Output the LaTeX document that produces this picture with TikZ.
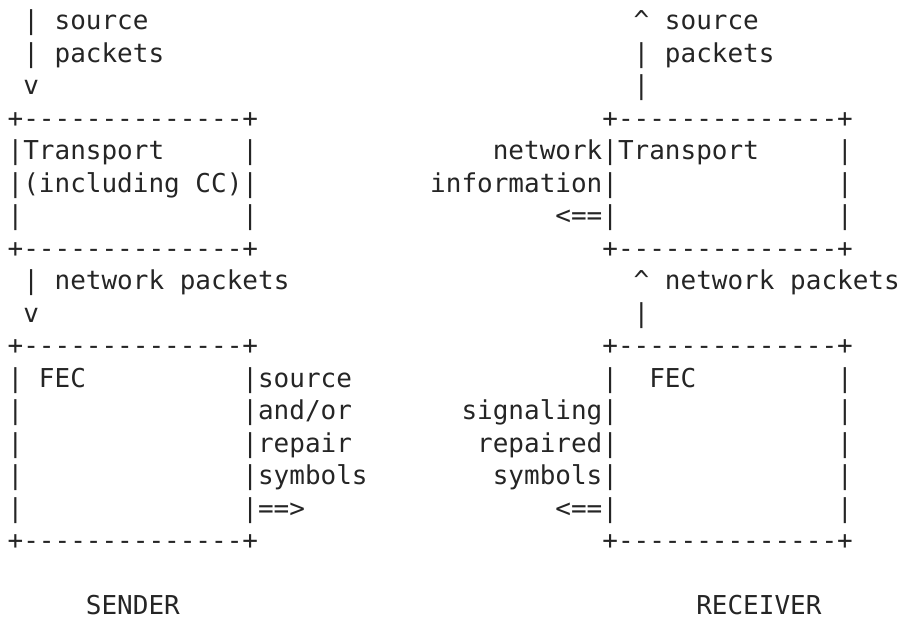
\documentclass[tikz,border=0pt]{standalone}
\usepackage{fontspec}
\setmonofont{DejaVu Sans Mono}[Ligatures=TeXOff]
\definecolor{ink}{HTML}{252525}
\tikzset{
  ascii/.style={anchor=base west, inner sep=0pt, outer sep=0pt, text=ink,
    font=\ttfamily\fontsize{26}{32.5}\selectfont}
}
% \Tx{name}{column}{row}{text}
\newcommand{\Tx}[4]{\node[ascii] (#1) at ({7.675+#2*15.65},{-30-32.5*#3}) {#4};}
\begin{document}
\begin{tikzpicture}[x=1pt,y=1pt]
\useasboundingbox (0,0) rectangle (898,-617);
% row 0-2: source packets
\Tx{sInL}{1}{0}{| source}
\Tx{sInR}{40}{0}{\textasciicircum{} source}
\Tx{pInL}{1}{1}{| packets}
\Tx{pInR}{40}{1}{| packets}
\Tx{vInL}{1}{2}{v}
\Tx{vInR}{40}{2}{|}
% Transport boxes
\Tx{tTopL}{0}{3}{+--------------+}
\Tx{tTopR}{38}{3}{+--------------+}
\Tx{tL1}{0}{4}{|Transport}
\Tx{tL1e}{15}{4}{|}
\Tx{tR1}{31}{4}{network|Transport}
\Tx{tR1e}{53}{4}{|}
\Tx{tL2}{0}{5}{|(including CC)|}
\Tx{tR2}{27}{5}{information|}
\Tx{tR2e}{53}{5}{|}
\Tx{tL3}{0}{6}{|}
\Tx{tL3e}{15}{6}{|}
\Tx{tR3}{35}{6}{<==|}
\Tx{tR3e}{53}{6}{|}
\Tx{tBotL}{0}{7}{+--------------+}
\Tx{tBotR}{38}{7}{+--------------+}
% network packets
\Tx{nL}{1}{8}{| network packets}
\Tx{nR}{40}{8}{\textasciicircum{} network packets}
\Tx{nvL}{1}{9}{v}
\Tx{nvR}{40}{9}{|}
% FEC boxes
\Tx{fTopL}{0}{10}{+--------------+}
\Tx{fTopR}{38}{10}{+--------------+}
\Tx{fL1}{0}{11}{| FEC}
\Tx{fL1e}{15}{11}{|source}
\Tx{fR1}{38}{11}{|}
\Tx{fR1t}{41}{11}{FEC}
\Tx{fR1e}{53}{11}{|}
\Tx{fL2}{0}{12}{|}
\Tx{fL2e}{15}{12}{|and/or}
\Tx{fR2}{29}{12}{signaling|}
\Tx{fR2e}{53}{12}{|}
\Tx{fL3}{0}{13}{|}
\Tx{fL3e}{15}{13}{|repair}
\Tx{fR3}{30}{13}{repaired|}
\Tx{fR3e}{53}{13}{|}
\Tx{fL4}{0}{14}{|}
\Tx{fL4e}{15}{14}{|symbols}
\Tx{fR4}{31}{14}{symbols|}
\Tx{fR4e}{53}{14}{|}
\Tx{fL5}{0}{15}{|}
\Tx{fL5e}{15}{15}{|==>}
\Tx{fR5}{35}{15}{<==|}
\Tx{fR5e}{53}{15}{|}
\Tx{fBotL}{0}{16}{+--------------+}
\Tx{fBotR}{38}{16}{+--------------+}
% labels
\Tx{sender}{5}{18}{SENDER}
\Tx{receiver}{44}{18}{RECEIVER}
\end{tikzpicture}
\end{document}
